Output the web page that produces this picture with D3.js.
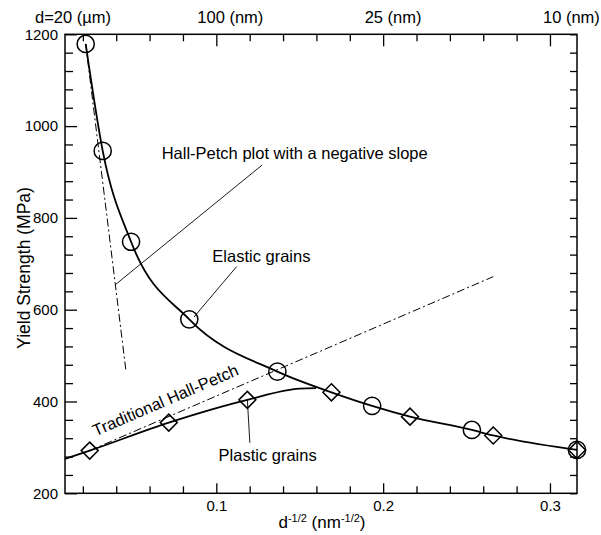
<!DOCTYPE html>
<html>
<head>
<meta charset="utf-8">
<title>Yield strength vs grain size</title>
<script src="https://d3js.org/d3.v7.min.js"></script>
<style>
  body { margin: 0; background: #fff; }
  svg text { font-family: "Liberation Sans", Arial, Helvetica, sans-serif; fill: #000; }
</style>
</head>
<body>
<svg id="chart" width="601" height="535"></svg>
<script>
// data (x = d^-1/2 in nm^-1/2, y = MPa)
var circleX = [0.0217, 0.0319, 0.0489, 0.0838, 0.1366, 0.1934, 0.2532, 0.3162];
var circleY = [1179, 946, 748, 579, 465, 390.5, 338, 294.5];

var diamondX = [0.0241, 0.0715, 0.1186, 0.169, 0.2161, 0.266, 0.3162];
var diamondY = [293, 354, 403.6, 420, 367, 326, 294.5];

// elastic grains curve (through the circles, shared part on the right)
var elasticX = [0.0217, 0.0319, 0.0489, 0.0838, 0.1366, 0.169, 0.1934, 0.2161, 0.2532, 0.266, 0.3162];
var elasticY = [1179, 946, 748, 579, 465, 420, 390.5, 367, 338, 326, 294.5];

// plastic grains curve, joins the elastic one near 0.16
var plasticX = [0.0093, 0.0241, 0.0715, 0.1186, 0.150, 0.1598];
var plasticY = [275, 293, 354, 403.6, 428, 429];

// dash-dot Hall-Petch lines
var negSlopeX = [0.0217, 0.0459];
var negSlopeY = [1179, 465];
var tradX = [0.0241, 0.266];
var tradY = [293, 672];

var xMajor = [0.1, 0.2, 0.3];
var xMinor = [0.02, 0.04, 0.06, 0.08, 0.12, 0.14, 0.16, 0.18, 0.22, 0.24, 0.26, 0.28];
var yMajor = [200, 400, 600, 800, 1000, 1200];
var yMinor = d3.range(240, 1200, 40).filter(function(v) { return v % 200 != 0; });

var topLabels = ["d=20 (\u00b5m)", "100 (nm)", "25 (nm)", "10 (nm)"];
var topLabelAt = [0.0093, 0.1, 0.2, 0.3162];

var margin = {top: 34.3, right: 24, bottom: 41.7, left: 65},
    width = 601 - margin.left - margin.right,
    height = 535 - margin.top - margin.bottom;

var svg = d3.select("#chart");
svg.append("rect").attr("width", 601).attr("height", 535).attr("fill", "white");

var g = svg.append("g")
    .attr("transform", "translate(" + margin.left + "," + margin.top + ")");

var x = d3.scaleLinear().domain([0.0093, 0.3162]).range([0, width]);
var y = d3.scaleLinear().domain([200, 1200]).range([height, 0]);

// ---- axes (ticks point inward on all four sides)
function styleAxis(sel) {
  sel.select(".domain").remove();
  sel.selectAll("line").attr("stroke", "#000").attr("stroke-width", 1.3);
  sel.selectAll("text").style("font-size", "15px").attr("fill", "#000");
}

g.append("g").attr("transform", "translate(0," + height + ")")
  .call(d3.axisBottom(x).tickValues(xMajor).tickSize(-10).tickPadding(7).tickFormat(d3.format(".1f")))
  .call(styleAxis);
g.append("g").attr("transform", "translate(0," + height + ")")
  .call(d3.axisBottom(x).tickValues(xMinor).tickSize(-7).tickFormat(""))
  .call(styleAxis);

g.append("g")
  .call(d3.axisTop(x).tickValues(xMajor).tickSize(-12).tickFormat(""))
  .call(styleAxis);
g.append("g")
  .call(d3.axisTop(x).tickValues(xMinor).tickSize(-7).tickFormat(""))
  .call(styleAxis);

g.append("g")
  .call(d3.axisLeft(y).tickValues(yMajor).tickSize(-12).tickPadding(7).tickFormat(d3.format("d")))
  .call(styleAxis);
g.append("g")
  .call(d3.axisLeft(y).tickValues(yMinor).tickSize(-8).tickFormat(""))
  .call(styleAxis);

g.append("g").attr("transform", "translate(" + width + ",0)")
  .call(d3.axisRight(y).tickValues(yMajor.concat(yMinor)).tickSize(-7).tickFormat(""))
  .call(styleAxis);

// frame
g.append("rect")
  .attr("width", width).attr("height", height)
  .attr("fill", "none").attr("stroke", "#000").attr("stroke-width", 1.5);

// top grain-size labels
var topDx = [-30, -19, -18.5, -34];
g.selectAll(".toplab").data(topLabels).enter().append("text")
  .attr("class", "toplab")
  .attr("x", function(d, i) { return x(topLabelAt[i]) + topDx[i]; })
  .attr("y", -11.5)
  .style("font-size", "16.5px")
  .text(function(d) { return d; });

// axis titles
svg.append("text")
  .attr("transform", "translate(30,268) rotate(-90)")
  .attr("text-anchor", "middle")
  .style("font-size", "17.5px")
  .text("Yield Strength (MPa)");

var xt = svg.append("text")
  .attr("x", 322).attr("y", 528)
  .attr("text-anchor", "middle")
  .style("font-size", "17px");
xt.append("tspan").text("d");
xt.append("tspan").attr("dy", -6).style("font-size", "11px").text("-1/2");
xt.append("tspan").attr("dy", 6).text(" (nm");
xt.append("tspan").attr("dy", -6).style("font-size", "11px").text("-1/2");
xt.append("tspan").attr("dy", 6).text(")");

// ---- lines
function pts(xs, ys) { return xs.map(function(v, i) { return [v, ys[i]]; }); }

var smooth = d3.line()
  .x(function(d) { return x(d[0]); })
  .y(function(d) { return y(d[1]); })
  .curve(d3.curveMonotoneX);
var straight = d3.line()
  .x(function(d) { return x(d[0]); })
  .y(function(d) { return y(d[1]); });

g.append("path").datum(pts(negSlopeX, negSlopeY))
  .attr("d", straight).attr("fill", "none")
  .attr("stroke", "#000").attr("stroke-width", 1)
  .attr("stroke-dasharray", "8,3,2,3");
g.append("path").datum(pts(tradX, tradY))
  .attr("d", straight).attr("fill", "none")
  .attr("stroke", "#000").attr("stroke-width", 1)
  .attr("stroke-dasharray", "8,3,2,3");

g.append("path").datum(pts(elasticX, elasticY))
  .attr("d", smooth).attr("fill", "none")
  .attr("stroke", "#000").attr("stroke-width", 1.8);
g.append("path").datum(pts(plasticX, plasticY))
  .attr("d", smooth).attr("fill", "none")
  .attr("stroke", "#000").attr("stroke-width", 1.8);

// ---- markers
g.selectAll(".circ").data(pts(circleX, circleY)).enter().append("circle")
  .attr("class", "circ")
  .attr("cx", function(d) { return x(d[0]); })
  .attr("cy", function(d) { return y(d[1]); })
  .attr("r", 8.6)
  .attr("fill", "none").attr("stroke", "#000").attr("stroke-width", 1.5);

g.selectAll(".diam").data(pts(diamondX, diamondY)).enter().append("path")
  .attr("class", "diam")
  .attr("transform", function(d) { return "translate(" + x(d[0]) + "," + y(d[1]) + ")"; })
  .attr("d", "M0,-8.5L8.5,0L0,8.5L-8.5,0Z")
  .attr("fill", "none").attr("stroke", "#000").attr("stroke-width", 1.5);

// ---- annotations
var leaders = [
  [[0.1274, 915], [0.0393, 654]],
  [[0.1122, 694], [0.0866, 584]],
  [[0.1186, 403.6], [0.1201, 310]]
];
leaders.forEach(function(l) {
  g.append("path").datum(l).attr("d", straight)
    .attr("fill", "none").attr("stroke", "#000").attr("stroke-width", 0.9);
});

svg.append("text").attr("x", 161.7).attr("y", 159).style("font-size", "16.5px")
  .text("Hall-Petch plot with a negative slope");
svg.append("text").attr("x", 212.3).attr("y", 262.3).style("font-size", "16.5px")
  .text("Elastic grains");
svg.append("text").attr("x", 218.6).attr("y", 461).style("font-size", "16.5px")
  .text("Plastic grains");

// rotated label follows the traditional line
var ang = Math.atan2(y(tradY[1]) - y(tradY[0]), x(tradX[1]) - x(tradX[0])) * 180 / Math.PI;
svg.append("text")
  .attr("transform", "translate(95.5,436.5) rotate(" + ang + ")")
  .style("font-size", "16.5px")
  .text("Traditional Hall-Petch");
</script>
</body>
</html>
